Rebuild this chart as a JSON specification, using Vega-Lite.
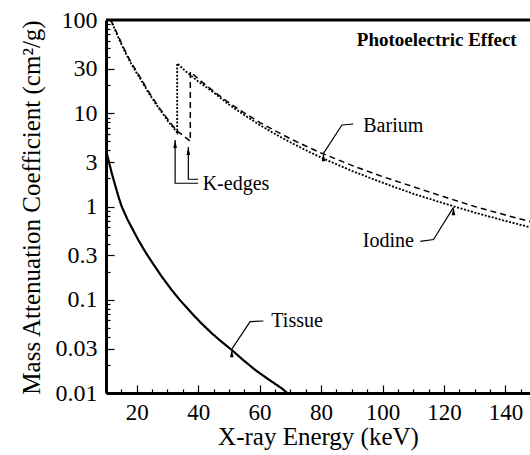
{
  "$schema": "https://vega.github.io/schema/vega-lite/v6.json",
  "width": 424,
  "height": 373,
  "autosize": "none",
  "padding": {"left": 106, "top": 20, "right": 0, "bottom": 62},
  "background": "white",
  "config": {"view": {"stroke": null}, "font": "Liberation Serif"},
  "encoding": {
    "x": {
      "field": "E", "type": "quantitative",
      "scale": {"domain": [10, 148], "nice": false, "zero": false},
      "axis": {
        "values": [15,20,25,30,35,40,45,50,55,60,65,70,75,80,85,90,95,100,105,110,115,120,125,130,135,140,145],
        "format": "d",
        "labelExpr": "datum.value % 20 == 0 ? datum.label : ''",
        "tickSize": {"condition": {"test": "datum.value % 20 == 0", "value": -8}, "value": -4},
        "tickColor": "black", "tickWidth": 1.2,
        "domainColor": "black", "domainWidth": 3,
        "grid": false,
        "labelFont": "Liberation Serif", "labelFontSize": 23, "labelColor": "black",
        "labelPadding": 16, "labelOverlap": false, "labelFlush": false, "labelBound": false,
        "title": "X-ray Energy (keV)",
        "titleFont": "Liberation Serif", "titleFontSize": 25, "titleFontWeight": "normal", "titleColor": "black",
        "titleBaseline": "top", "titleY": 31
      }
    },
    "y": {
      "field": "v", "type": "quantitative",
      "scale": {"type": "log", "domain": [0.01, 100], "nice": false},
      "axis": {
        "values": [0.01,0.02,0.03,0.04,0.05,0.06,0.07,0.08,0.09,0.1,0.2,0.3,0.4,0.5,0.6,0.7,0.8,0.9,1,2,3,4,5,6,7,8,9,10,20,30,40,50,60,70,80,90,100],
        "format": "~g",
        "labelExpr": "indexof([0.01,0.03,0.1,0.3,1,3,10,30,100], datum.value) >= 0 ? datum.label : ''",
        "tickSize": {"condition": {"test": "indexof([0.01,0.03,0.1,0.3,1,3,10,30,100], datum.value) >= 0", "value": -8}, "value": -4},
        "tickColor": "black", "tickWidth": 1.2,
        "domainColor": "black", "domainWidth": 3,
        "grid": false,
        "labelFont": "Liberation Serif", "labelFontSize": 24, "labelColor": "black",
        "labelPadding": 17, "labelOverlap": false, "labelFlush": false, "labelBound": false,
        "title": "Mass Attenuation Coefficient (cm²/g)",
        "titleFont": "Liberation Serif", "titleFontSize": 25, "titleFontWeight": "normal", "titleColor": "black",
        "titleAngle": -90, "titleBaseline": "top", "titleAlign": "center", "titleX": -87, "titleY": 187
      }
    }
  },
  "layer": [
    {
      "data": {"values": [
        {"s": "Tissue", "E": 10, "v": 4.0, "i": 0},
        {"s": "Tissue", "E": 12, "v": 2.2, "i": 1},
        {"s": "Tissue", "E": 14, "v": 1.29, "i": 2},
        {"s": "Tissue", "E": 15.11, "v": 1.0, "i": 3},
        {"s": "Tissue", "E": 17, "v": 0.725, "i": 4},
        {"s": "Tissue", "E": 20.52, "v": 0.437, "i": 5},
        {"s": "Tissue", "E": 23, "v": 0.318, "i": 6},
        {"s": "Tissue", "E": 25.96, "v": 0.226, "i": 7},
        {"s": "Tissue", "E": 28, "v": 0.18, "i": 8},
        {"s": "Tissue", "E": 31.4, "v": 0.127, "i": 9},
        {"s": "Tissue", "E": 34, "v": 0.0998, "i": 10},
        {"s": "Tissue", "E": 37.91, "v": 0.0716, "i": 11},
        {"s": "Tissue", "E": 41, "v": 0.0561, "i": 12},
        {"s": "Tissue", "E": 44.43, "v": 0.0437, "i": 13},
        {"s": "Tissue", "E": 47.5, "v": 0.0357, "i": 14},
        {"s": "Tissue", "E": 50.94, "v": 0.0289, "i": 15},
        {"s": "Tissue", "E": 54.5, "v": 0.0228, "i": 16},
        {"s": "Tissue", "E": 58.53, "v": 0.0177, "i": 17},
        {"s": "Tissue", "E": 62.5, "v": 0.0143, "i": 18},
        {"s": "Tissue", "E": 67.23, "v": 0.0112, "i": 19},
        {"s": "Tissue", "E": 69, "v": 0.01, "i": 20},

        {"s": "Iodine", "E": 11.5, "v": 100, "i": 0},
        {"s": "Iodine", "E": 12.4, "v": 86, "i": 1},
        {"s": "Iodine", "E": 14, "v": 65, "i": 2},
        {"s": "Iodine", "E": 15.6, "v": 50, "i": 3},
        {"s": "Iodine", "E": 17, "v": 40.3, "i": 4},
        {"s": "Iodine", "E": 18.4, "v": 33, "i": 5},
        {"s": "Iodine", "E": 19.7, "v": 28, "i": 6},
        {"s": "Iodine", "E": 21.1, "v": 23.7, "i": 7},
        {"s": "Iodine", "E": 22.7, "v": 19.2, "i": 8},
        {"s": "Iodine", "E": 24.3, "v": 15.7, "i": 9},
        {"s": "Iodine", "E": 26, "v": 12.9, "i": 10},
        {"s": "Iodine", "E": 27.6, "v": 10.8, "i": 11},
        {"s": "Iodine", "E": 29, "v": 9.4, "i": 12},
        {"s": "Iodine", "E": 30.3, "v": 8.1, "i": 13},
        {"s": "Iodine", "E": 31.8, "v": 7.1, "i": 14},
        {"s": "Iodine", "E": 33.17, "v": 6.2, "i": 15},
        {"s": "Iodine", "E": 33.17, "v": 34.4, "i": 16},
        {"s": "Iodine", "E": 36, "v": 28.0, "i": 17},
        {"s": "Iodine", "E": 40, "v": 21.9, "i": 18},
        {"s": "Iodine", "E": 45, "v": 16.8, "i": 19},
        {"s": "Iodine", "E": 50, "v": 12.4, "i": 20},
        {"s": "Iodine", "E": 55, "v": 9.57, "i": 21},
        {"s": "Iodine", "E": 60, "v": 7.5, "i": 22},
        {"s": "Iodine", "E": 65, "v": 6.0, "i": 23},
        {"s": "Iodine", "E": 70, "v": 4.88, "i": 24},
        {"s": "Iodine", "E": 75, "v": 4.02, "i": 25},
        {"s": "Iodine", "E": 80, "v": 3.35, "i": 26},
        {"s": "Iodine", "E": 90, "v": 2.41, "i": 27},
        {"s": "Iodine", "E": 100, "v": 1.8, "i": 28},
        {"s": "Iodine", "E": 110, "v": 1.37, "i": 29},
        {"s": "Iodine", "E": 120, "v": 1.08, "i": 30},
        {"s": "Iodine", "E": 130, "v": 0.861, "i": 31},
        {"s": "Iodine", "E": 140, "v": 0.7, "i": 32},
        {"s": "Iodine", "E": 148, "v": 0.6, "i": 33},

        {"s": "Barium", "E": 11.5, "v": 100, "i": 0},
        {"s": "Barium", "E": 12.4, "v": 88, "i": 1},
        {"s": "Barium", "E": 14, "v": 67, "i": 2},
        {"s": "Barium", "E": 15.6, "v": 51.5, "i": 3},
        {"s": "Barium", "E": 17, "v": 41.5, "i": 4},
        {"s": "Barium", "E": 18.4, "v": 34, "i": 5},
        {"s": "Barium", "E": 19.7, "v": 29, "i": 6},
        {"s": "Barium", "E": 21.1, "v": 24.4, "i": 7},
        {"s": "Barium", "E": 22.7, "v": 19.8, "i": 8},
        {"s": "Barium", "E": 24.3, "v": 16.2, "i": 9},
        {"s": "Barium", "E": 26, "v": 13.3, "i": 10},
        {"s": "Barium", "E": 27.6, "v": 11.1, "i": 11},
        {"s": "Barium", "E": 29, "v": 9.7, "i": 12},
        {"s": "Barium", "E": 30.3, "v": 8.4, "i": 13},
        {"s": "Barium", "E": 31.8, "v": 7.3, "i": 14},
        {"s": "Barium", "E": 33.17, "v": 6.45, "i": 15},
        {"s": "Barium", "E": 35.3, "v": 5.7, "i": 16},
        {"s": "Barium", "E": 37.44, "v": 5.0, "i": 17},
        {"s": "Barium", "E": 37.44, "v": 27.9, "i": 18},
        {"s": "Barium", "E": 40, "v": 23.4, "i": 19},
        {"s": "Barium", "E": 45, "v": 17.2, "i": 20},
        {"s": "Barium", "E": 50, "v": 13.0, "i": 21},
        {"s": "Barium", "E": 55, "v": 10.1, "i": 22},
        {"s": "Barium", "E": 60, "v": 8.0, "i": 23},
        {"s": "Barium", "E": 65, "v": 6.49, "i": 24},
        {"s": "Barium", "E": 70, "v": 5.33, "i": 25},
        {"s": "Barium", "E": 75, "v": 4.45, "i": 26},
        {"s": "Barium", "E": 80, "v": 3.75, "i": 27},
        {"s": "Barium", "E": 90, "v": 2.76, "i": 28},
        {"s": "Barium", "E": 100, "v": 2.09, "i": 29},
        {"s": "Barium", "E": 110, "v": 1.63, "i": 30},
        {"s": "Barium", "E": 120, "v": 1.27, "i": 31},
        {"s": "Barium", "E": 130, "v": 1.0, "i": 32},
        {"s": "Barium", "E": 140, "v": 0.81, "i": 33},
        {"s": "Barium", "E": 148, "v": 0.69, "i": 34}
      ]},
      "mark": {"type": "line", "color": "black", "clip": true},
      "encoding": {
        "detail": {"field": "s", "type": "nominal"},
        "order": {"field": "i", "type": "quantitative"},
        "strokeDash": {"field": "s", "type": "nominal", "scale": {"domain": ["Tissue", "Iodine", "Barium"], "range": [[1, 0], [2, 1.6], [6, 4]]}, "legend": null},
        "strokeWidth": {"field": "s", "type": "nominal", "scale": {"domain": ["Tissue", "Iodine", "Barium"], "range": [2.2, 1.5, 1.6]}, "legend": null}
      }
    },
    {
      "data": {"values": [
        {"g": "kI", "E": 32.5, "v": 5.16, "i": 0},
        {"g": "kI", "E": 32.5, "v": 1.775, "i": 1},
        {"g": "kI", "E": 40.0, "v": 1.775, "i": 2},
        {"g": "kB", "E": 36.8, "v": 4.35, "i": 0},
        {"g": "kB", "E": 36.8, "v": 1.96, "i": 1},
        {"g": "kB", "E": 40.0, "v": 1.96, "i": 2},
        {"g": "ba", "E": 80.78, "v": 3.72, "i": 0},
        {"g": "ba", "E": 86.8, "v": 7.48, "i": 1},
        {"g": "ba", "E": 90.5, "v": 7.67, "i": 2},
        {"g": "io", "E": 123.1, "v": 0.98, "i": 0},
        {"g": "io", "E": 116.6, "v": 0.443, "i": 1},
        {"g": "io", "E": 112.3, "v": 0.422, "i": 2},
        {"g": "ti", "E": 50.94, "v": 0.0295, "i": 0},
        {"g": "ti", "E": 56.9, "v": 0.0582, "i": 1},
        {"g": "ti", "E": 61.2, "v": 0.0592, "i": 2}
      ]},
      "mark": {"type": "line", "color": "black", "strokeWidth": 1.2},
      "encoding": {
        "detail": {"field": "g", "type": "nominal"},
        "order": {"field": "i", "type": "quantitative"}
      }
    },
    {
      "data": {"values": [
        {"g": "kI", "E": 32.5, "v": 5.16},
        {"g": "kB", "E": 36.8, "v": 4.35},
        {"g": "ba", "E": 80.78, "v": 3.72},
        {"g": "io", "E": 123.1, "v": 0.98},
        {"g": "ti", "E": 50.94, "v": 0.0295}
      ]},
      "mark": {"type": "point", "shape": "M0,0L0.5,2.2L-0.5,2.2Z", "filled": true, "color": "black", "opacity": 1, "size": 53, "strokeWidth": 0},
      "encoding": {
        "angle": {"field": "g", "type": "nominal", "scale": {"domain": ["kI", "kB", "ba", "io", "ti"], "range": [0, 0, 213, 33.5, 214.5]}, "legend": null}
      }
    },
    {
      "data": {"values": [
        {"t": "Barium", "E": 103.5, "v": 6.34},
        {"t": "Iodine", "E": 101.9, "v": 0.371},
        {"t": "K-edges", "E": 52.3, "v": 1.503},
        {"t": "Tissue", "E": 72.2, "v": 0.0514}
      ]},
      "mark": {"type": "text", "font": "Liberation Serif", "fontSize": 20, "align": "center", "baseline": "alphabetic", "color": "black"},
      "encoding": {"text": {"field": "t", "type": "nominal"}}
    },
    {
      "data": {"values": [
        {"t": "Photoelectric Effect", "E": 117.65, "v": 52.6}
      ]},
      "mark": {"type": "text", "font": "Liberation Serif", "fontSize": 19, "fontWeight": "bold", "align": "center", "baseline": "alphabetic", "color": "black"},
      "encoding": {"text": {"field": "t", "type": "nominal"}}
    },
    {
      "data": {"values": [{"E": 10, "E2": 148, "v": 100}]},
      "mark": {"type": "rule", "color": "black", "strokeWidth": 3},
      "encoding": {
        "x2": {"field": "E2"}
      }
    }
  ]
}
